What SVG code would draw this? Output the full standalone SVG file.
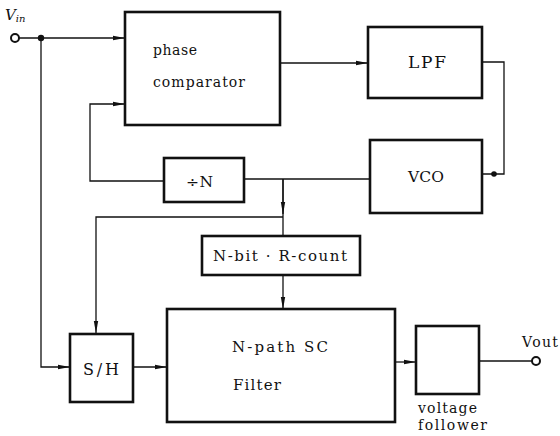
<svg xmlns="http://www.w3.org/2000/svg" width="560" height="436" viewBox="0 0 560 436">
<defs>
<marker id="ah" viewBox="0 0 12 6" refX="12" refY="3" markerWidth="12" markerHeight="6" markerUnits="userSpaceOnUse" orient="auto">
<path d="M0,0.8 L12,3 L0,5.2 Z" fill="#111"/>
</marker>
<style>
.box{fill:#fff;stroke:#111;stroke-width:2.6}
.ln{fill:none;stroke:#111;stroke-width:1.3}
text{fill:#111}
</style>
</defs>
<rect width="560" height="436" fill="#fff"/>
<g id="connectors">
<path class="ln" d="M19,38 H125" marker-end="url(#ah)"/>
<path class="ln" d="M41,38 V367 H70" marker-end="url(#ah)"/>
<path class="ln" d="M164,181 H90 V104 H125" marker-end="url(#ah)"/>
<path class="ln" d="M280,63 H368" marker-end="url(#ah)"/>
<path class="ln" d="M482,62 H504 V174 H482"/>
<path class="ln" d="M370,179 H244"/>
<path class="ln" d="M283,179 V217"/>
<path class="ln" d="M283,179 V214" marker-end="url(#ah)"/>
<path class="ln" d="M283,217 H96 V333" marker-end="url(#ah)"/>
<path class="ln" d="M283,217 V236"/>
<path class="ln" d="M283,275 V309" marker-end="url(#ah)"/>
<path class="ln" d="M133,367 H167" marker-end="url(#ah)"/>
<path class="ln" d="M395,362 H416" marker-end="url(#ah)"/>
<path class="ln" d="M479,361 H532"/>
<circle cx="41" cy="38" r="3.2" fill="#111"/>
<circle cx="494" cy="174" r="2.8" fill="#111"/>
<circle cx="15" cy="38" r="4" fill="#fff" stroke="#111" stroke-width="2"/>
<circle cx="536" cy="361" r="4" fill="#fff" stroke="#111" stroke-width="2"/>
</g>
<g font-family="'DejaVu Serif', 'Liberation Serif', serif" font-size="15">
<g id="vin"><text x="5" y="20" font-style="italic" font-size="15">V<tspan font-size="10" dy="2">in</tspan></text></g>
<g id="vout"><text x="522" y="347" font-size="14" textLength="36" lengthAdjust="spacing">Vout</text></g>
<g id="phase-comparator">
<rect class="box" x="125" y="12" width="155" height="113"/>
<text x="153" y="55" font-size="14" textLength="44" lengthAdjust="spacing">phase</text>
<text x="153" y="87" font-size="14" textLength="92" lengthAdjust="spacing">comparator</text>
</g>
<g id="lpf">
<rect class="box" x="368" y="27" width="114" height="71"/>
<text x="408" y="68" font-size="17" textLength="38" lengthAdjust="spacing">LPF</text>
</g>
<g id="vco">
<rect class="box" x="370" y="140" width="112" height="73"/>
<text x="408" y="182" font-size="15.5" textLength="36" lengthAdjust="spacing">VCO</text>
</g>
<g id="div-n">
<rect class="box" x="164" y="158" width="80" height="44"/>
<text x="186" y="187" font-size="15.5" textLength="27" lengthAdjust="spacing">÷N</text>
</g>
<g id="n-bit-r-count">
<rect class="box" x="202" y="236" width="158" height="39"/>
<text x="213" y="261" font-size="15" textLength="134" lengthAdjust="spacing">N-bit · R-count</text>
</g>
<g id="sh">
<rect class="box" x="70" y="334" width="63" height="68"/>
<text x="83" y="375" font-size="16" textLength="36" lengthAdjust="spacing">S/H</text>
</g>
<g id="n-path-sc-filter">
<rect class="box" x="167" y="309" width="228" height="113"/>
<text x="232" y="352" font-size="15" textLength="96" lengthAdjust="spacing">N-path SC</text>
<text x="233" y="390" font-size="15" textLength="48" lengthAdjust="spacing">Filter</text>
</g>
<g id="voltage-follower">
<rect class="box" x="416" y="326" width="63" height="68"/>
<text x="418" y="413" font-size="14" textLength="59" lengthAdjust="spacing">voltage</text>
<text x="418" y="430" font-size="14" textLength="69" lengthAdjust="spacing">follower</text>
</g>
</g>
</svg>
